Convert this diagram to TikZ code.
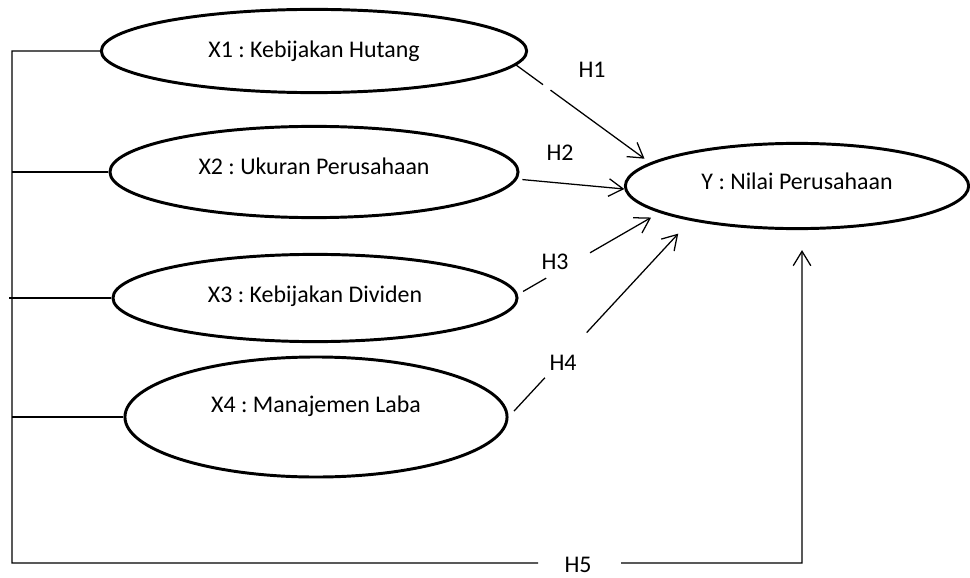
\documentclass[tikz,border=0pt]{standalone}
\usepackage{fontspec}
\setmainfont{Carlito}
\usetikzlibrary{shapes.geometric,arrows.meta,calc}
\frenchspacing

\begin{document}
\begin{tikzpicture}[x=0.025cm,y=-0.025cm,
        var/.style={ellipse,draw,line width=2.1pt,inner sep=0pt,font=\fontsize{17}{20}\selectfont},
        link/.style={line width=0.9pt},
        arr/.style={line width=0.9pt,-{Straight Barb[length=3.6mm,width=4.4mm]}},
        hyp/.style={font=\fontsize{17}{20}\selectfont}]
        \useasboundingbox (0,0) rectangle (970,577);
        \node[var,minimum width=10.63cm,minimum height=2.08cm] (hutang) at (314,51) {X1 : Kebijakan Hutang};
        \node[var,minimum width=10.2cm,minimum height=2.28cm,text depth=0.28cm] (ukuran) at (314,172) {X2 : Ukuran Perusahaan};
        \node[var,minimum width=10.1cm,minimum height=2.18cm,text depth=0.18cm] (dividen) at (315,298) {X3 : Kebijakan Dividen};
        \node[var,minimum width=9.55cm,minimum height=3cm,text depth=0.63cm] (laba) at (316,417) {X4 : Manajemen Laba};
        \node[var,minimum width=8.58cm,minimum height=2.13cm,text depth=0.23cm] (nilai) at (797,186) {Y : Nilai Perusahaan};
        \node[hyp] (h1) at (592,70) {H1};
        \node[hyp] (h2) at (560,153) {H2};
        \node[hyp] (h3) at (555,262) {H3};
        \node[hyp] (h4) at (563,363) {H4};
        \node[hyp] (h5) at (578,565) {H5};
        \coordinate (bl) at (12,563);
        \coordinate (br) at (802,563);
        \draw[link] (hutang.west) -| (bl) -- ($(bl)!0.666!(br)$);
        \draw[link] (ukuran.west) -- (ukuran.west -| bl);
        \draw[link] (dividen.west) -- ([xshift=-0.08cm]dividen.west -| bl);
        \draw[link] (laba.west) -- (laba.west -| bl);
        \draw[arr,shorten >=0.5cm] ($(bl)!0.771!(br)$) -- (br) -- (br |- nilai.south);
        \draw[link] (hutang.-4) -- ($(hutang.-4)!0.2!(nilai.171.5)$);
        \draw[arr,shorten >=0.17cm] ($(hutang.-4)!0.256!(nilai.171.5)$) -- (nilai.171.5);
        \draw[arr,shorten <=0.13cm] (ukuran.-2) -- (nilai.181);
        \draw[link,shorten <=0.15cm] (dividen.1) -- ($(dividen.1)!0.2!(nilai.191.7)$);
        \draw[arr,shorten >=0.24cm] ($(dividen.1)!0.51!(nilai.191.7)$) -- (nilai.191.7);
        \draw[link,shorten <=0.2cm] (laba.east) -- ($(laba.east)!0.2!(nilai.198.4)$);
        \draw[arr,shorten >=0.44cm] ($(laba.east)!0.43!(nilai.198.4)$) -- (nilai.198.4);
    \end{tikzpicture}
\end{document}
